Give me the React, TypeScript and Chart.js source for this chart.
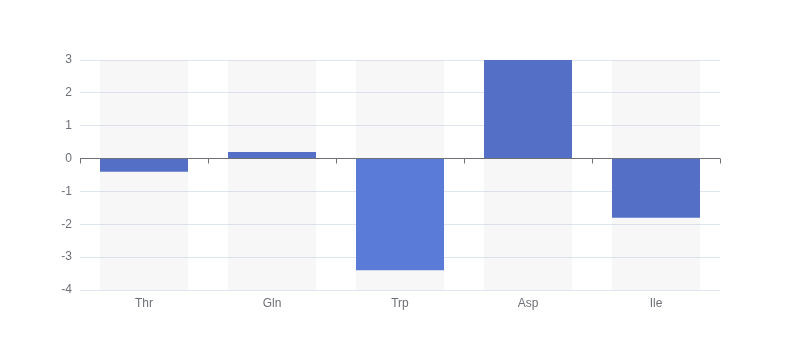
import React, { useEffect, useRef } from "react";
import { Chart, registerables } from "chart.js";

Chart.register(...registerables);

const categories = ["Thr", "Gln", "Trp", "Asp", "Ile"];
const values = [-0.4, 0.2, -3.4, 3.0, -1.8];
const barColors = ["#5470c6", "#5470c6", "#5b7bd8", "#5470c6", "#5470c6"];
const yMin = -4;
const yMax = 3;

const zeroAxisPlugin = {
  id: "zeroAxis",
  afterDatasetsDraw(chart: any) {
    const { ctx, scales } = chart;
    const x = scales.x;
    const y = scales.y;
    const y0 = Math.floor(y.getPixelForValue(0)) + 0.5;
    ctx.save();
    ctx.strokeStyle = "#6e7079";
    ctx.lineWidth = 1;
    ctx.beginPath();
    ctx.moveTo(x.left, y0);
    ctx.lineTo(x.right, y0);
    const n = categories.length;
    for (let i = 0; i <= n; i++) {
      const px = Math.round(x.left + (i * (x.right - x.left)) / n) + 0.5;
      ctx.moveTo(px, y0);
      ctx.lineTo(px, y0 + 5);
    }
    ctx.stroke();
    ctx.restore();
  },
};

export default function App() {
  const ref = useRef<HTMLCanvasElement>(null);
  useEffect(() => {
    if (!ref.current) return;
    const chart = new Chart(ref.current, {
      type: "bar",
      data: {
        labels: categories,
        datasets: [
          {
            data: values,
            backgroundColor: barColors,
            barPercentage: 0.6875,
            categoryPercentage: 1,
            grouped: false,
            order: 1,
          },
          {
            data: categories.map(() => [yMin, yMax]) as any,
            backgroundColor: "rgba(180,180,180,0.1)",
            barPercentage: 0.6875,
            categoryPercentage: 1,
            grouped: false,
            order: 2,
          },
        ],
      },
      options: {
        animation: false,
        responsive: true,
        maintainAspectRatio: false,
        layout: { padding: { left: 0, right: 80, top: 60, bottom: 0 } },
        plugins: { legend: { display: false }, tooltip: { enabled: false } },
        scales: {
          x: {
            grid: { display: false, drawTicks: false, tickLength: 0 },
            border: { display: false },
            ticks: { color: "#6e7079", font: { size: 12, family: "sans-serif" }, padding: 6 },
            afterFit: (s: any) => {
              s.height = 70;
            },
          },
          y: {
            min: yMin,
            max: yMax,
            grid: { color: "#e0e6f1", drawTicks: false, tickLength: 0 },
            border: { display: false },
            ticks: { stepSize: 1, color: "#6e7079", font: { size: 12, family: "sans-serif" }, padding: 8 },
            afterFit: (s: any) => {
              s.width = 80;
            },
          },
        },
      },
      plugins: [zeroAxisPlugin],
    });
    return () => chart.destroy();
  }, []);
  return (
    <div style={{ position: "fixed", left: 0, top: 0, width: 800, height: 360 }}>
      <canvas ref={ref} />
    </div>
  );
}
